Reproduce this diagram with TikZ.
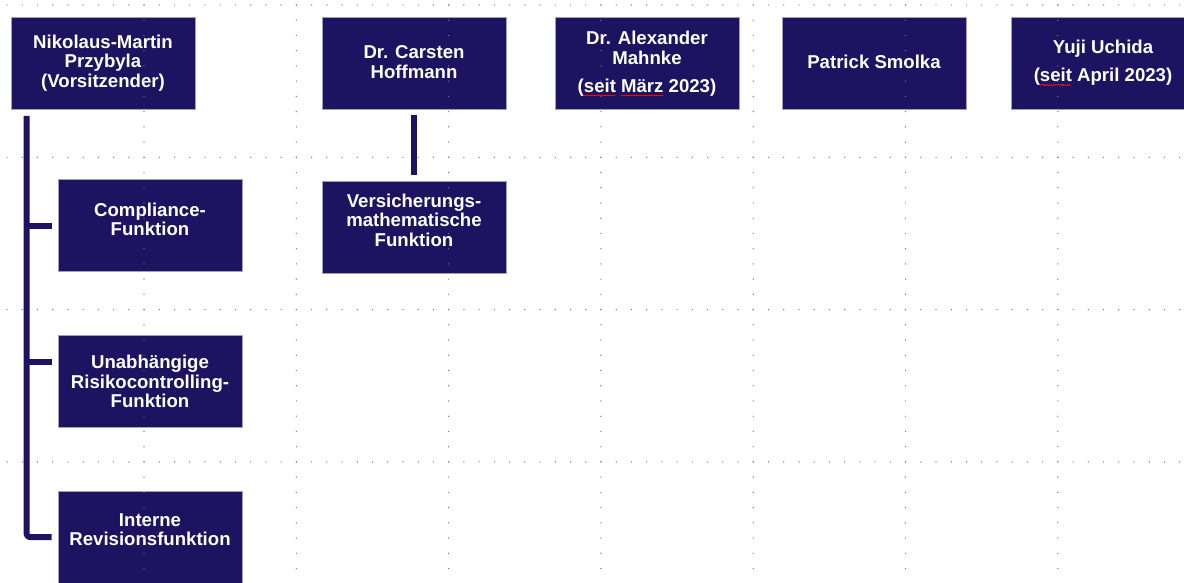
\documentclass[tikz,border=0pt]{standalone}
\usepackage{fontspec}
\setmainfont{Liberation Sans}
\definecolor{navy}{RGB}{29,20,97}
\definecolor{boxedge}{RGB}{160,158,195}
\definecolor{dotc}{RGB}{120,120,115}
\newsavebox\errbox
\newcommand\spellerr[1]{\sbox\errbox{#1}\rlap{\color{red}\hbox to \wd\errbox{\leaders\hbox{\rule[-3.2pt]{0.9pt}{0.6pt}\rule[-3.9pt]{0.9pt}{0.6pt}}\hfil}}\usebox\errbox}
\begin{document}
\begin{tikzpicture}[x=1pt,y=-1pt,
  orgbox/.style={rectangle,fill=navy,draw=boxedge,line width=0.6pt,minimum width=184pt,minimum height=92pt,inner sep=0pt},
  txt/.style={text=white,font=\fontsize{18.6}{19.5}\selectfont\bfseries,align=center,inner sep=0pt},
  conn/.style={draw=navy,line width=6pt,line join=round},
  griddot/.style={fill=dotc}]
\useasboundingbox (0,0) rectangle (1184,583);
\fill[white] (0,0) rectangle (1184,583);
% top row
\node[orgbox] (nik) at (103,63) {};
\node[txt] (nikt) at (nik.center) {Nikolaus-Martin\\Przybyla\\(Vorsitzender)};
\node[orgbox] (hof) at (414,63) {};
\node[txt] (hoft) at ([yshift=1pt]hof.center) {Dr. Carsten\\Hoffmann};
\node[orgbox] (mah) at (647,63) {};
\node[txt] (maht) at ([yshift=-0.5pt]mah.center) {Dr. Alexander\\Mahnke\\[8.5pt](\spellerr{seit} \spellerr{März} 2023)};
\node[orgbox] (smo) at (874,63) {};
\node[txt] (smot) at ([yshift=1pt]smo.center) {Patrick Smolka};
\node[orgbox] (uch) at (1103,63) {};
\node[txt] (ucht) at (uch.center) {Yuji Uchida\\[8.5pt](\spellerr{seit} April 2023)};
% sub boxes
\node[orgbox] (comp) at (150,225.5) {};
\node[txt] (compt) at ([yshift=6pt]comp.center) {Compliance-\\Funktion};
\node[orgbox] (unab) at (150,381.5) {};
\node[txt] (unabt) at (unab.center) {Unabhängige\\Risikocontrolling-\\Funktion};
\node[orgbox] (intr) at (150,537) {};
\node[txt] (intrt) at ([yshift=7.5pt]intr.center) {Interne\\Revisionsfunktion};
\node[orgbox] (vers) at (414,227) {};
\node[txt] (verst) at ([yshift=7pt]vers.center) {Versicherungs-\\mathematische\\Funktion};
% connectors
\coordinate (trunk) at ([xshift=16pt,yshift=-6.5pt]nik.south west);
\coordinate (cbr) at ([xshift=-6pt]comp.west);
\coordinate (ubr) at ([xshift=-6pt,yshift=19.5pt]unab.west);
\coordinate (ibr) at ([xshift=-6pt]intr.west);
\draw[conn,rounded corners=3pt] (trunk) |- (ibr);
\draw[conn] (trunk |- cbr) -- (cbr);
\draw[conn] (trunk |- ubr) -- (ubr);
\draw[conn] ([yshift=-6pt]hof.south) -- ([yshift=6pt]vers.north);
% dotted grid
\foreach \r in {0,...,3}
  \foreach \k in {0,...,77}
    \fill[griddot] ({7+15.23*\k},{5+152.3*\r}) circle (0.7pt);
\foreach \c in {0,...,6}
  \foreach \k in {0,...,38}
    \fill[griddot] ({144+152.3*\c},{5+15.23*\k}) circle (0.7pt);
\end{tikzpicture}
\end{document}
